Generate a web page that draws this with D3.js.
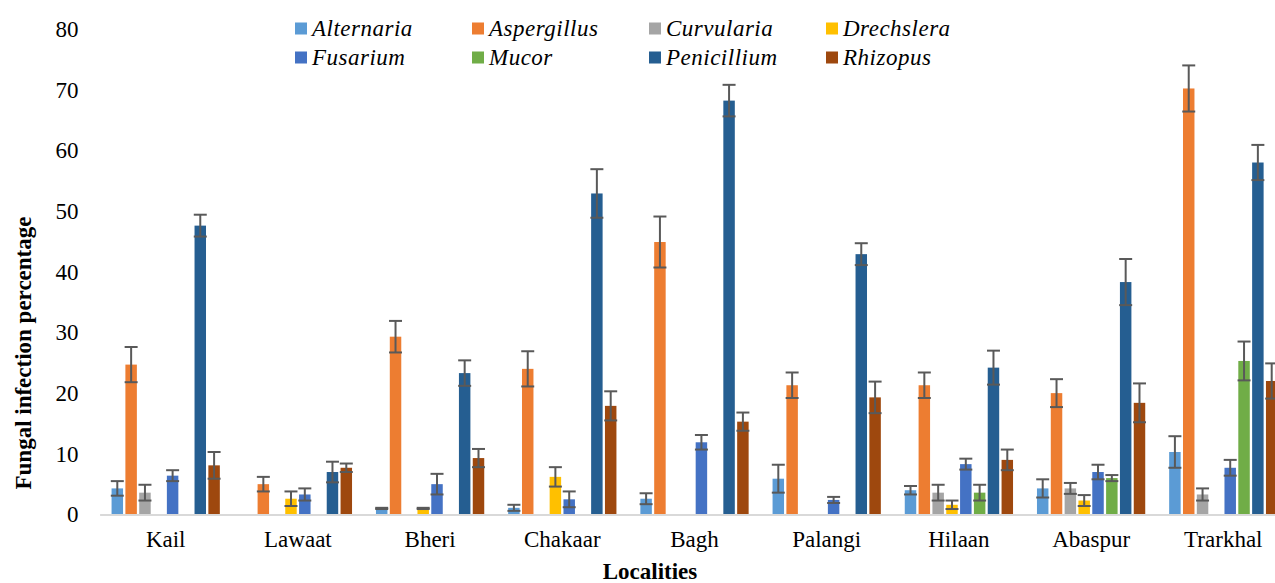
<!DOCTYPE html>
<html>
<head>
<meta charset="utf-8">
<script src="https://cdn.jsdelivr.net/npm/d3@7"></script>
<style>
  body { margin: 0; background: #fff; }
  text { font-family: "Liberation Serif", "Times New Roman", serif; fill: #000; }
</style>
</head>
<body>
<div id="chart"></div>
<script>
const localities = ["Kail", "Lawaat", "Bheri", "Chakaar", "Bagh", "Palangi", "Hilaan", "Abaspur", "Trarkhal"];
const fungi = ["Alternaria", "Aspergillus", "Curvularia", "Drechslera", "Fusarium", "Mucor", "Penicillium", "Rhizopus"];
const colors = ["#5b9bd5", "#ed7d31", "#a5a5a5", "#ffc000", "#4472c4", "#70ad47", "#255e91", "#9e480e"];
const yTicks = [0, 10, 20, 30, 40, 50, 60, 70, 80];

// mean infection % per locality, and error bar half-length
const alternaria = [4.3, 0, 1.0, 1.1, 2.6, 5.9, 4.0, 4.3, 10.3];
const alternariaErr = [1.2, 0, 0.1, 0.5, 0.9, 2.3, 0.7, 1.5, 2.6];
const aspergillus = [24.7, 5.0, 29.3, 24.0, 44.9, 21.3, 21.3, 20.0, 70.2];
const aspergillusErr = [2.9, 1.2, 2.6, 2.9, 4.2, 2.1, 2.1, 2.3, 3.8];
const curvularia = [3.6, 0, 0, 0, 0, 0, 3.6, 4.3, 3.3];
const curvulariaErr = [1.3, 0, 0, 0, 0, 0, 1.3, 0.9, 1.0];
const drechslera = [0, 2.6, 1.0, 6.2, 0, 0, 1.6, 2.3, 0];
const drechsleraErr = [0, 1.2, 0.1, 1.6, 0, 0, 0.7, 0.9, 0];
const fusarium = [6.4, 3.3, 5.0, 2.5, 11.9, 2.4, 8.3, 7.0, 7.7];
const fusariumErr = [0.9, 1.0, 1.7, 1.3, 1.2, 0.5, 0.9, 1.2, 1.3];
const mucor = [0, 0, 0, 0, 0, 0, 3.6, 6.0, 25.3];
const mucorErr = [0, 0, 0, 0, 0, 0, 1.3, 0.5, 3.2];
const penicillium = [47.6, 7.0, 23.3, 52.9, 68.2, 42.9, 24.2, 38.3, 58.0];
const penicilliumErr = [1.8, 1.7, 2.1, 4.0, 2.6, 1.8, 2.8, 3.8, 2.9];
const rhizopus = [8.1, 7.7, 9.3, 17.9, 15.3, 19.3, 9.0, 18.4, 22.0];
const rhizopusErr = [2.2, 0.7, 1.5, 2.4, 1.5, 2.6, 1.7, 3.2, 2.9];

const means = [alternaria, aspergillus, curvularia, drechslera, fusarium, mucor, penicillium, rhizopus];
const errs = [alternariaErr, aspergillusErr, curvulariaErr, drechsleraErr, fusariumErr, mucorErr, penicilliumErr, rhizopusErr];

const w = 1275;
const h = 583;

// filas planas: una por barra
const rows = [];
localities.forEach((loc, i) => {
  fungi.forEach((f, j) => {
    rows.push({ loc: loc, fungus: f, color: colors[j], value: means[j][i], err: errs[j][i] });
  });
});

// Escalas
const x0 = d3.scaleBand().domain(localities).range([99.6, 1289.4]).paddingInner(0.181).paddingOuter(0.0905);
const x1 = d3.scaleBand().domain(fungi).range([0, x0.bandwidth()]).paddingInner(0.17);
const y = d3.scaleLinear().domain([0, 80]).range([514.5, 29]);

const svg = d3.select("#chart").append("svg").attr("width", w).attr("height", h);

// Eje Y (solo etiquetas)
const yAxis = svg.append("g")
  .attr("transform", "translate(99.6,0)")
  .call(d3.axisLeft(y).tickValues(yTicks).tickSize(0).tickPadding(21));
yAxis.select(".domain").remove();
yAxis.selectAll("text").style("font-size", "23px").style("font-family", "Liberation Serif");

// Barras
svg.append("g")
  .selectAll("rect")
  .data(rows.filter((d) => d.value > 0))
  .enter()
  .append("rect")
  .attr("x", (d) => x0(d.loc) + x1(d.fungus))
  .attr("y", (d) => y(d.value))
  .attr("width", x1.bandwidth())
  .attr("height", (d) => y(0) - y(d.value))
  .attr("fill", (d) => d.color);

// Eje X
const xAxis = svg.append("g")
  .attr("transform", `translate(0,${y(0)})`)
  .call(d3.axisBottom(x0).tickSize(0).tickPadding(16));
xAxis.select(".domain").attr("stroke", "#d9d9d9").attr("stroke-width", 2);
xAxis.selectAll("text").style("font-size", "23px").style("font-family", "Liberation Serif");

// Barras de error
const eb = svg.append("g").attr("stroke", "#595959").attr("stroke-width", 2);
const withErr = rows.filter((d) => d.value > 0 && d.err > 0);
const cx = (d) => x0(d.loc) + x1(d.fungus) + x1.bandwidth() / 2;
const capHalf = 6.5;

eb.selectAll("line.v")
  .data(withErr)
  .enter()
  .append("line")
  .attr("x1", cx)
  .attr("x2", cx)
  .attr("y1", (d) => y(d.value + d.err))
  .attr("y2", (d) => y(d.value - d.err));

eb.selectAll("line.top")
  .data(withErr)
  .enter()
  .append("line")
  .attr("x1", (d) => cx(d) - capHalf)
  .attr("x2", (d) => cx(d) + capHalf)
  .attr("y1", (d) => y(d.value + d.err))
  .attr("y2", (d) => y(d.value + d.err));

eb.selectAll("line.bottom")
  .data(withErr)
  .enter()
  .append("line")
  .attr("x1", (d) => cx(d) - capHalf)
  .attr("x2", (d) => cx(d) + capHalf)
  .attr("y1", (d) => y(d.value - d.err))
  .attr("y2", (d) => y(d.value - d.err));

// Títulos de ejes
svg.append("text")
  .attr("transform", "translate(31,353) rotate(-90)")
  .attr("text-anchor", "middle")
  .style("font-size", "23px")
  .style("font-weight", "bold")
  .text("Fungal infection percentage");

svg.append("text")
  .attr("x", 650)
  .attr("y", 579)
  .attr("text-anchor", "middle")
  .style("font-size", "23px")
  .style("font-weight", "bold")
  .text("Localities");

// Leyenda (2 filas x 4 columnas)
const legend = svg.append("g");
fungi.forEach((f, j) => {
  const col = j % 4;
  const row = Math.floor(j / 4);
  const lx = 295 + col * 177;
  const ly = 28.5 + row * 29;
  legend.append("rect")
    .attr("x", lx)
    .attr("y", ly - 6)
    .attr("width", 12)
    .attr("height", 12)
    .attr("fill", colors[j]);
  legend.append("text")
    .attr("x", lx + 17)
    .attr("y", ly + 7.5)
    .style("font-size", "23px")
    .style("font-style", "italic")
    .style("letter-spacing", "0.5px")
    .text(f);
});
</script>
</body>
</html>
